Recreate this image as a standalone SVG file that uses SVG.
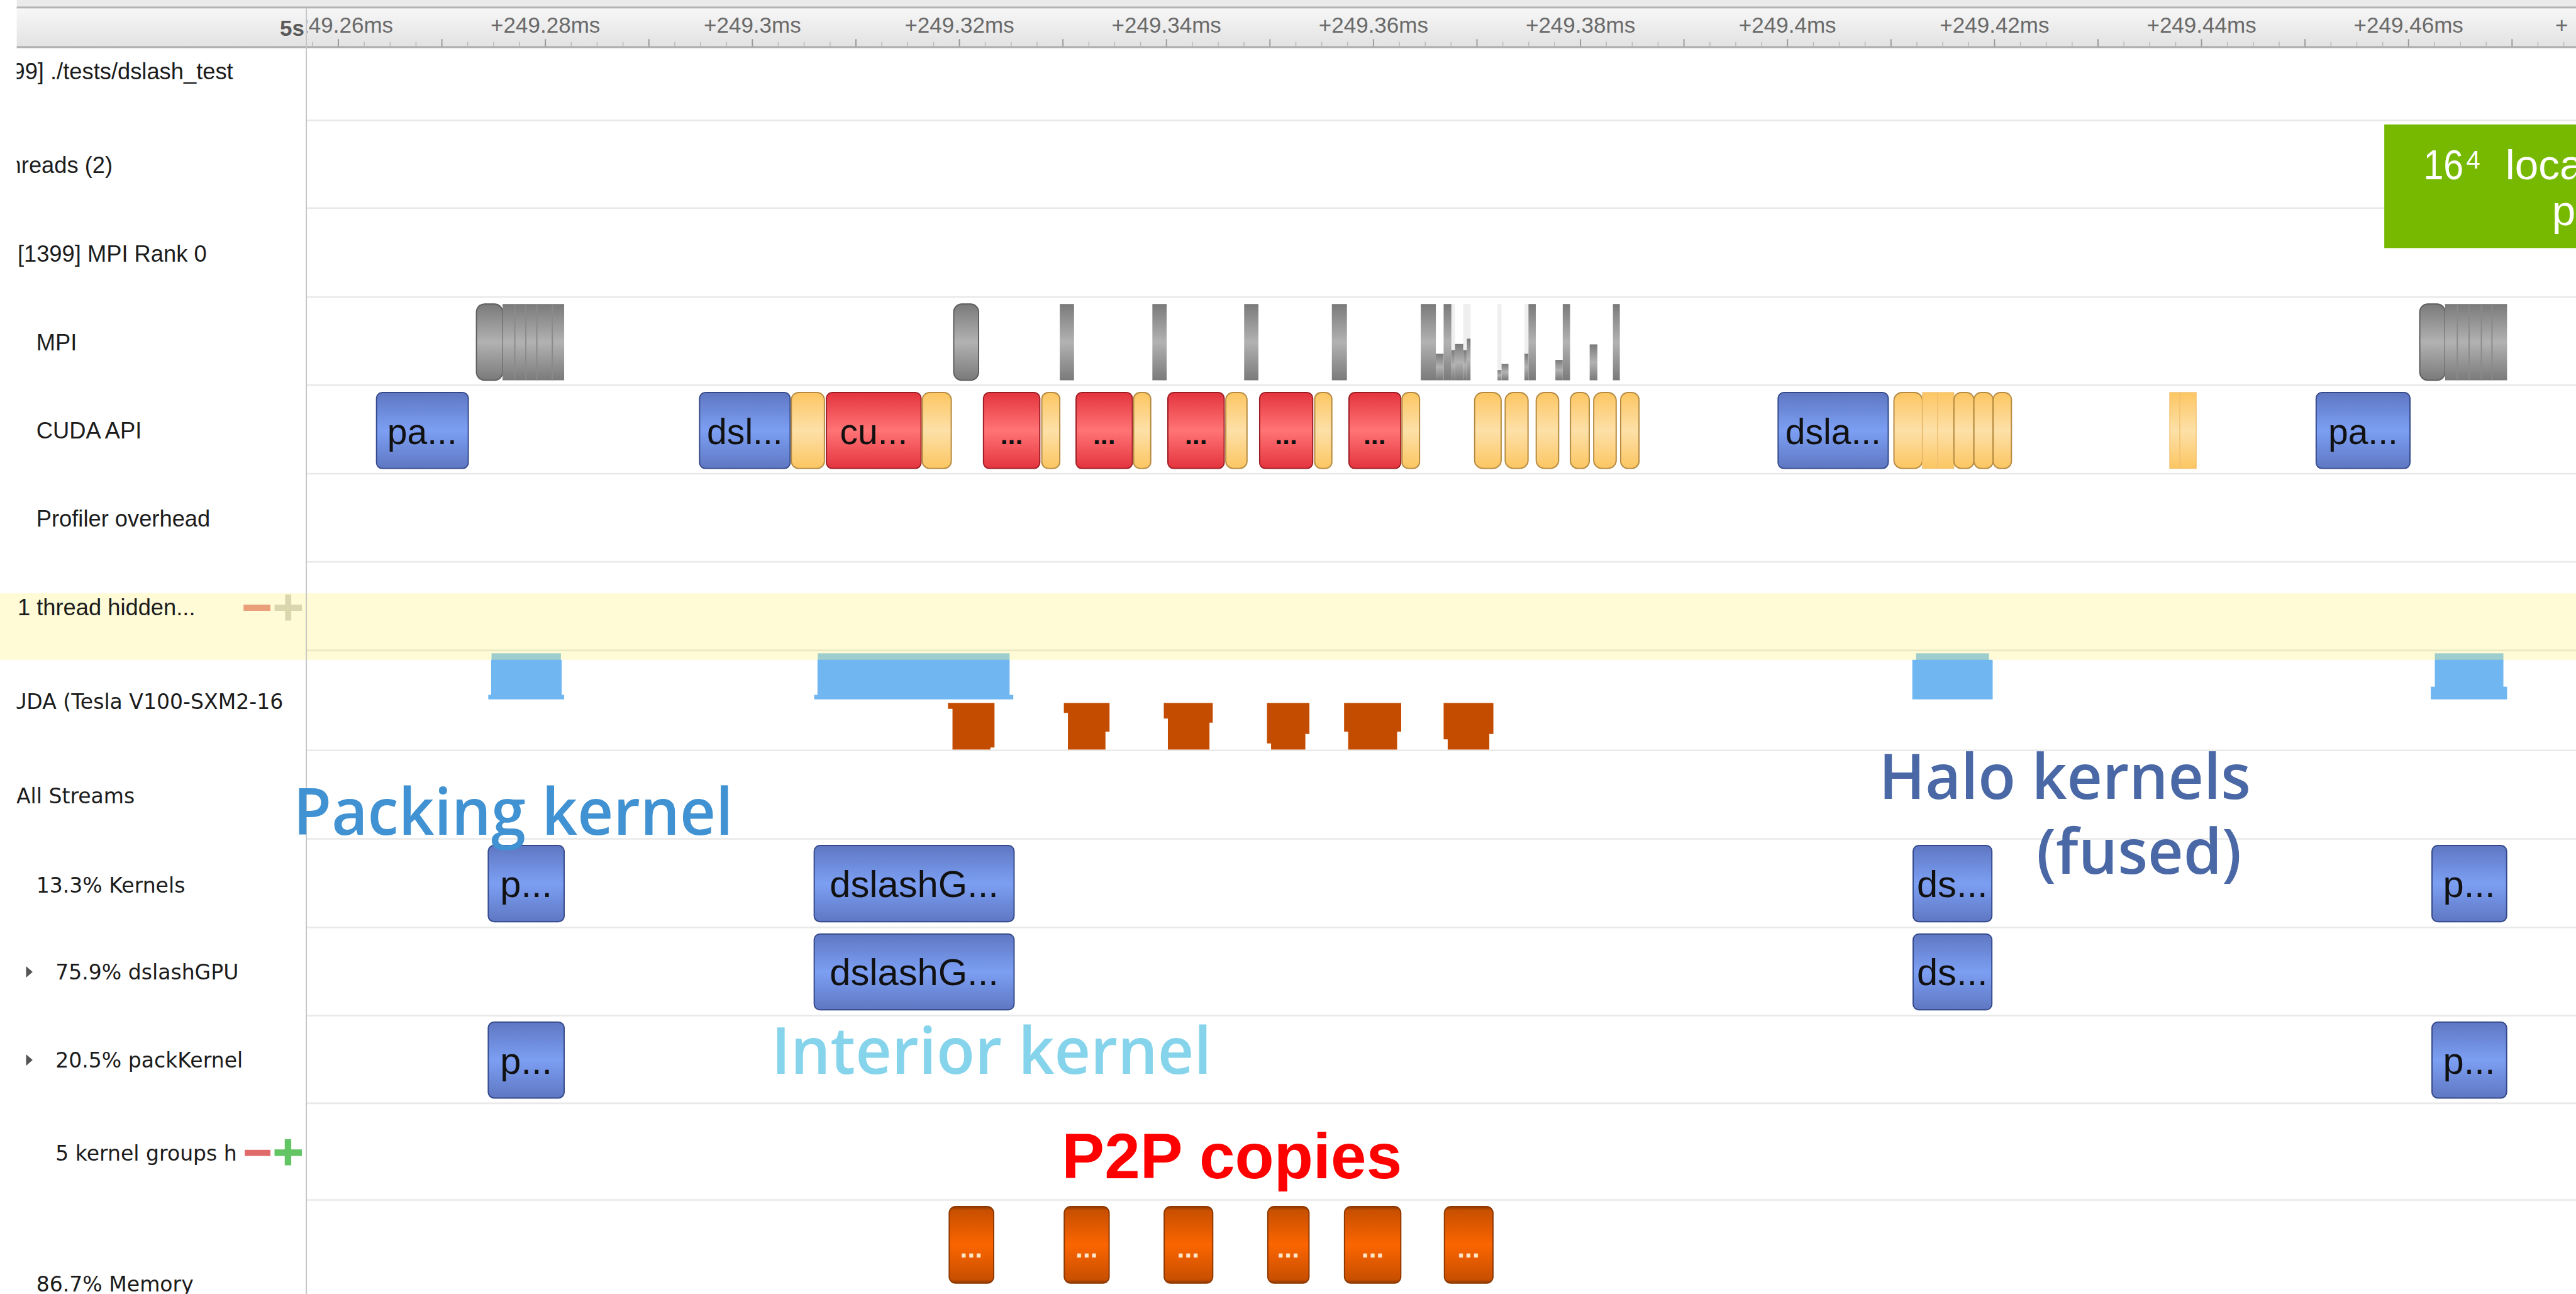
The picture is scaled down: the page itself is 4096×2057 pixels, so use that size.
<svg xmlns="http://www.w3.org/2000/svg" width="4096" height="2057" viewBox="0 0 4096 2057">
<defs>
  <linearGradient id="gBlue" x1="0" y1="0" x2="0" y2="1">
    <stop offset="0" stop-color="#5f77c2"/><stop offset="0.5" stop-color="#7c9ff3"/><stop offset="1" stop-color="#5f77c2"/>
  </linearGradient>
  <linearGradient id="gRed" x1="0" y1="0" x2="0" y2="1">
    <stop offset="0" stop-color="#e4343e"/><stop offset="0.5" stop-color="#ff7476"/><stop offset="1" stop-color="#e4343e"/>
  </linearGradient>
  <linearGradient id="gTan" x1="0" y1="0" x2="0" y2="1">
    <stop offset="0" stop-color="#fcc662"/><stop offset="0.5" stop-color="#fde0a8"/><stop offset="1" stop-color="#fcc662"/>
  </linearGradient>
  <linearGradient id="gGray" x1="0" y1="0" x2="0" y2="1">
    <stop offset="0" stop-color="#7a7a7a"/><stop offset="0.5" stop-color="#b2b2b2"/><stop offset="1" stop-color="#7a7a7a"/>
  </linearGradient>
  <linearGradient id="gMem" x1="0" y1="0" x2="0" y2="1">
    <stop offset="0" stop-color="#8c3800"/><stop offset="0.05" stop-color="#c84f00"/><stop offset="0.5" stop-color="#fb6500"/><stop offset="0.95" stop-color="#c84f00"/><stop offset="1" stop-color="#8c3800"/>
  </linearGradient>
  <linearGradient id="gRuler" x1="0" y1="0" x2="0" y2="1">
    <stop offset="0" stop-color="#f7f7f7"/><stop offset="1" stop-color="#e2e2e2"/>
  </linearGradient>
  <clipPath id="clipLabels"><rect x="41" y="0" width="697" height="3171"/></clipPath>
  <clipPath id="clipRuler"><rect x="752" y="0" width="5563" height="118"/></clipPath>
</defs>
<style>
  .rl { stroke:#e9e9e9; stroke-width:4; }
  .lbl { font-family:"Liberation Sans", Arial, sans-serif; font-size:56px; fill:#1c1c1c; }
  .lbl2 { font-family:"DejaVu Sans", Verdana, sans-serif; font-size:51px; fill:#1c1c1c; }
  .kb { fill:url(#gBlue); stroke:#34498a; stroke-width:3; }
  .kr { fill:url(#gRed); stroke:#9c1c24; stroke-width:3; }
  .kt { fill:url(#gTan); stroke:#b58a40; stroke-width:3; }
  .kf { fill:url(#gTan); stroke:#f0c070; stroke-width:2; }
  .mg { fill:url(#gGray); stroke:#5e5e5e; stroke-width:3; }
  .gb { fill:url(#gGray); }
  .lg { fill:#efefef; }
  .km { fill:url(#gMem); stroke:#8c3800; stroke-width:3; }
  .gpu { fill:#70b6f1; }
  .teal { fill:#9dcdcc; }
  .cp { fill:#c44c00; }
  .bt { font-family:"Liberation Sans", Arial, sans-serif; font-size:88px; fill:#111; text-anchor:middle; }
  .bk { font-family:"Liberation Sans", Arial, sans-serif; font-size:92px; fill:#111; text-anchor:middle; }
  .dots { font-family:"Liberation Sans", Arial, sans-serif; font-size:66px; font-weight:bold; text-anchor:middle; }
  .rt { font-family:"Liberation Sans", Arial, sans-serif; font-size:54px; fill:#6a6a6a; text-anchor:middle; }
  .ann { font-family:"Open Sans", "DejaVu Sans", sans-serif; font-weight:600; }
  .cap { font-family:"Liberation Sans", Arial, sans-serif; fill:#ffffff; }
</style>
<g transform="scale(0.648614)">
  <!-- background -->
  <rect x="0" y="0" width="6315" height="3171" fill="#ffffff"/>

  <!-- header ruler -->
  <g id="ruler">
    <rect x="41" y="0" width="6274" height="17" fill="#ebebeb"/>
    <rect x="41" y="16" width="6274" height="5" fill="#b4b4b4"/>
    <rect x="41" y="21" width="6274" height="93" fill="url(#gRuler)"/>
    <rect x="41" y="113" width="6274" height="5" fill="#b0b0b0"/>
    <path stroke="#9a9a9a" stroke-width="3" d="M829.5 96V114M1083.25 96V114M1337 96V114M1590.75 96V114M1844.5 96V114M2098.25 96V114M2352 96V114M2605.75 96V114M2859.5 96V114M3113.25 96V114M3367 96V114M3620.75 96V114M3874.5 96V114M4128.25 96V114M4382 96V114M4635.75 96V114M4889.5 96V114M5143.25 96V114M5397 96V114M5650.75 96V114M5904.5 96V114M6158.25 96V114"/>
    <path stroke="#bdbdbd" stroke-width="2.5" d="M766.1 102V114M892.9 102V114M956.4 102V114M1019.8 102V114M1146.7 102V114M1210.1 102V114M1273.6 102V114M1400.4 102V114M1463.9 102V114M1527.3 102V114M1654.2 102V114M1717.6 102V114M1781.1 102V114M1907.9 102V114M1971.4 102V114M2034.8 102V114M2161.7 102V114M2225.1 102V114M2288.6 102V114M2415.4 102V114M2478.9 102V114M2542.3 102V114M2669.2 102V114M2732.6 102V114M2796.1 102V114M2922.9 102V114M2986.4 102V114M3049.8 102V114M3176.7 102V114M3240.1 102V114M3303.6 102V114M3430.4 102V114M3493.9 102V114M3557.3 102V114M3684.2 102V114M3747.6 102V114M3811.1 102V114M3937.9 102V114M4001.4 102V114M4064.8 102V114M4191.7 102V114M4255.1 102V114M4318.6 102V114M4445.4 102V114M4508.9 102V114M4572.3 102V114M4699.2 102V114M4762.6 102V114M4826.1 102V114M4952.9 102V114M5016.4 102V114M5079.8 102V114M5206.7 102V114M5270.1 102V114M5333.6 102V114M5460.4 102V114M5523.9 102V114M5587.3 102V114M5714.2 102V114M5777.6 102V114M5841.1 102V114M5967.9 102V114M6031.4 102V114M6094.8 102V114M6221.7 102V114M6285.1 102V114"/>
    <text x="746" y="88" font-family="Liberation Sans, Arial, sans-serif" font-size="54" font-weight="bold" fill="#5a5a5a" text-anchor="end">5s</text>
    <g clip-path="url(#clipRuler)">
      <text class="rt" x="829.5" y="80">+249.26ms</text>
      <text class="rt" x="1337" y="80">+249.28ms</text>
      <text class="rt" x="1844.5" y="80">+249.3ms</text>
      <text class="rt" x="2352" y="80">+249.32ms</text>
      <text class="rt" x="2859.5" y="80">+249.34ms</text>
      <text class="rt" x="3367" y="80">+249.36ms</text>
      <text class="rt" x="3874.5" y="80">+249.38ms</text>
      <text class="rt" x="4382" y="80">+249.4ms</text>
      <text class="rt" x="4889.5" y="80">+249.42ms</text>
      <text class="rt" x="5397" y="80">+249.44ms</text>
      <text class="rt" x="5904.5" y="80">+249.46ms</text>
      <text class="rt" x="6280" y="80" text-anchor="start">+</text>
    </g>
  </g>

  <!-- collapsed-thread band -->
  <rect x="0" y="1454" width="6315" height="163" fill="#fffbd6"/>
  <line x1="752" y1="1594" x2="6315" y2="1594" stroke="#ece8c4" stroke-width="4"/>

  <!-- row separators -->
  <g id="row-lines">
    <line class="rl" x1="752" y1="295" x2="6315" y2="295"/>
    <line class="rl" x1="752" y1="510" x2="6315" y2="510"/>
    <line class="rl" x1="752" y1="728" x2="6315" y2="728"/>
    <line class="rl" x1="752" y1="944" x2="6315" y2="944"/>
    <line class="rl" x1="752" y1="1161" x2="6315" y2="1161"/>
    <line class="rl" x1="752" y1="1377" x2="6315" y2="1377"/>
    <line class="rl" x1="752" y1="1839" x2="6315" y2="1839"/>
    <line class="rl" x1="752" y1="2056" x2="6315" y2="2056"/>
    <line class="rl" x1="752" y1="2273" x2="6315" y2="2273"/>
    <line class="rl" x1="752" y1="2489" x2="6315" y2="2489"/>
    <line class="rl" x1="752" y1="2704" x2="6315" y2="2704"/>
    <line class="rl" x1="752" y1="2941" x2="6315" y2="2941"/>
  </g>

  <!-- panel divider -->
  <line x1="751" y1="20" x2="751" y2="3171" stroke="#c6c6c6" stroke-width="3"/>

  <!-- row labels -->
  <g id="labels" clip-path="url(#clipLabels)">
    <text class="lbl" x="30" y="195">99] ./tests/dslash_test</text>
    <text class="lbl" x="21" y="424">hreads (2)</text>
    <text class="lbl" x="43" y="641">[1399] MPI Rank 0</text>
    <text class="lbl" x="89" y="858">MPI</text>
    <text class="lbl" x="89" y="1074">CUDA API</text>
    <text class="lbl" x="89" y="1290" fill="#7c7c7c">Profiler overhead</text>
    <text class="lbl" x="43" y="1508" fill="#8e8c7c">1 thread hidden...</text>
    <text class="lbl2" x="28" y="1737">UDA (Tesla V100-SXM2-16</text>
    <text class="lbl2" x="40" y="1969">All Streams</text>
    <text class="lbl2" x="89" y="2188">13.3% Kernels</text>
    <text class="lbl2" x="136" y="2401">75.9% dslashGPU</text>
    <text class="lbl2" x="136" y="2617">20.5% packKernel</text>
    <text class="lbl2" x="136" y="2845" fill="#999999">5 kernel groups h</text>
    <text class="lbl2" x="89" y="3165">86.7% Memory</text>
  </g>
  <g id="expanders">
    <polygon points="64,2368 64,2396 80,2382" fill="#555555"/>
    <polygon points="64,2584 64,2612 80,2598" fill="#555555"/>
  </g>
  <g id="thread-toggle">
    <rect x="597" y="1482" width="66" height="15" fill="#e9a07a"/>
    <rect x="673" y="1482" width="67" height="15" fill="#dcd6ae"/>
    <rect x="699" y="1457" width="15" height="64" fill="#dcd6ae"/>
  </g>
  <g id="kernel-toggle">
    <rect x="600" y="2818" width="63" height="15" fill="#e06a6a"/>
    <rect x="673" y="2817" width="67" height="16" fill="#62c462"/>
    <rect x="698" y="2792" width="16" height="64" fill="#62c462"/>
  </g>

  <!-- MPI row -->
  <g id="mpi">
    <rect class="mg" x="1168" y="745" width="64" height="187" rx="20"/>
    <g id="mpi-burst-1">
      <rect class="gb" x="1232" y="745" width="151" height="187"/>
      <path stroke="#8a8a8a" stroke-width="3" d="M1262 745V932M1289 745V932M1316 745V932M1354 745V932"/>
    </g>
    <rect class="mg" x="2338" y="745" width="61" height="187" rx="20"/>
    <rect class="gb" x="2598" y="745" width="35" height="187"/>
    <rect class="gb" x="2825" y="745" width="35" height="187"/>
    <rect class="gb" x="3050" y="745" width="35" height="187"/>
    <rect class="gb" x="3265" y="745" width="37" height="187"/>
    <g id="mpi-cluster">
      <rect class="lg" x="3558" y="745" width="9" height="113"/>
      <rect class="lg" x="3587" y="745" width="18" height="113"/>
      <rect class="lg" x="3671" y="745" width="10" height="162"/>
      <rect class="lg" x="3737" y="745" width="10" height="122"/>
      <rect class="gb" x="3483" y="745" width="37" height="187"/>
      <rect class="gb" x="3520" y="867" width="19" height="65"/>
      <rect class="gb" x="3539" y="745" width="19" height="187"/>
      <rect class="gb" x="3558" y="858" width="9" height="74"/>
      <rect class="gb" x="3567" y="843" width="20" height="89"/>
      <rect class="gb" x="3587" y="858" width="9" height="74"/>
      <rect class="gb" x="3596" y="830" width="9" height="102"/>
      <rect class="gb" x="3671" y="907" width="10" height="25"/>
      <rect class="gb" x="3681" y="892" width="17" height="40"/>
      <rect class="gb" x="3737" y="867" width="10" height="65"/>
      <rect class="gb" x="3747" y="745" width="18" height="187"/>
      <rect class="gb" x="3813" y="882" width="18" height="50"/>
      <rect class="gb" x="3831" y="745" width="18" height="187"/>
      <rect class="gb" x="3897" y="844" width="19" height="88"/>
      <rect class="gb" x="3954" y="745" width="17" height="187"/>
    </g>
    <rect class="mg" x="5932" y="745" width="62" height="187" rx="20"/>
    <g id="mpi-burst-2">
      <rect class="gb" x="5994" y="745" width="152" height="187"/>
      <path stroke="#8a8a8a" stroke-width="3" d="M6024 745V932M6053 745V932M6083 745V932M6109 745V932"/>
    </g>
  </g>

  <!-- CUDA API row -->
  <g id="cuda-api">
    <g id="api-pack-1"><rect class="kb" x="923" y="962" width="225" height="186" rx="14"/><text class="bt" x="1035" y="1088">pa...</text></g>
    <g id="api-dslash-1"><rect class="kb" x="1715" y="962" width="222" height="186" rx="14"/><text class="bt" x="1826" y="1088">dsl...</text></g>
    <rect class="kt" x="1940" y="962" width="81" height="186" rx="18"/>
    <g id="api-cu"><rect class="kr" x="2026" y="962" width="232" height="186" rx="14"/><text class="bt" x="2142" y="1088">cu...</text></g>
    <rect class="kt" x="2261" y="962" width="71" height="186" rx="18"/>
    <g id="api-r1"><rect class="kr" x="2411" y="962" width="138" height="186" rx="14"/><text class="dots" x="2480" y="1088" fill="#111">...</text></g>
    <rect class="kt" x="2554" y="962" width="44" height="186" rx="16"/>
    <g id="api-r2"><rect class="kr" x="2638" y="962" width="138" height="186" rx="14"/><text class="dots" x="2707" y="1088" fill="#111">...</text></g>
    <rect class="kt" x="2779" y="962" width="42" height="186" rx="16"/>
    <g id="api-r3"><rect class="kr" x="2863" y="962" width="138" height="186" rx="14"/><text class="dots" x="2932" y="1088" fill="#111">...</text></g>
    <rect class="kt" x="3005" y="962" width="52" height="186" rx="18"/>
    <g id="api-r4"><rect class="kr" x="3088" y="962" width="130" height="186" rx="14"/><text class="dots" x="3153" y="1088" fill="#111">...</text></g>
    <rect class="kt" x="3223" y="962" width="42" height="186" rx="16"/>
    <g id="api-r5"><rect class="kr" x="3307" y="962" width="127" height="186" rx="14"/><text class="dots" x="3370" y="1088" fill="#111">...</text></g>
    <rect class="kt" x="3437" y="962" width="43" height="186" rx="16"/>
    <rect class="kt" x="3615" y="962" width="65" height="186" rx="20"/>
    <rect class="kt" x="3690" y="962" width="56" height="186" rx="20"/>
    <rect class="kt" x="3766" y="962" width="55" height="186" rx="20"/>
    <rect class="kt" x="3850" y="962" width="46" height="186" rx="18"/>
    <rect class="kt" x="3907" y="962" width="55" height="186" rx="20"/>
    <rect class="kt" x="3973" y="962" width="45" height="186" rx="18"/>
    <g id="api-dslash-2"><rect class="kb" x="4359" y="962" width="270" height="186" rx="14"/><text class="bt" x="4494" y="1088">dsla...</text></g>
    <rect class="kt" x="4643" y="962" width="70" height="186" rx="20"/>
    <rect class="kf" x="4713" y="962" width="37" height="186"/>
    <rect class="kf" x="4750" y="962" width="40" height="186"/>
    <rect class="kt" x="4790" y="962" width="49" height="186" rx="18"/>
    <rect class="kt" x="4839" y="962" width="47" height="186" rx="18"/>
    <rect class="kt" x="4886" y="962" width="45" height="186" rx="18"/>
    <rect class="kf" x="5319" y="962" width="25" height="186"/>
    <rect class="kf" x="5344" y="962" width="40" height="186"/>
    <g id="api-pack-2"><rect class="kb" x="5678" y="962" width="230" height="186" rx="14"/><text class="bt" x="5793" y="1088">pa...</text></g>
  </g>

  <!-- GPU device summary row -->
  <g id="gpu-activity">
    <rect class="teal" x="1205" y="1601" width="170" height="17"/>
    <rect class="gpu" x="1204" y="1617" width="173" height="90"/>
    <rect class="gpu" x="1197" y="1703" width="186" height="11"/>
    <rect class="teal" x="2005" y="1601" width="470" height="17"/>
    <rect class="gpu" x="2004" y="1617" width="471" height="90"/>
    <rect class="gpu" x="1996" y="1703" width="488" height="11"/>
    <rect class="teal" x="4697" y="1601" width="179" height="17"/>
    <rect class="gpu" x="4688" y="1617" width="197" height="97"/>
    <rect class="teal" x="5969" y="1601" width="168" height="17"/>
    <rect class="gpu" x="5969" y="1617" width="168" height="70"/>
    <rect class="gpu" x="5959" y="1683" width="187" height="31"/>
    <polygon class="cp" points="2324,1723 2438,1723 2438,1832 2428,1832 2428,1837 2335,1837 2335,1737 2324,1737"/>
    <polygon class="cp" points="2608,1723 2720,1723 2720,1793 2710,1793 2710,1837 2618,1837 2618,1747 2608,1747"/>
    <polygon class="cp" points="2853,1723 2973,1723 2973,1771 2965,1771 2965,1837 2863,1837 2863,1761 2853,1761"/>
    <polygon class="cp" points="3106,1723 3210,1723 3210,1799 3200,1799 3200,1837 3116,1837 3116,1822 3106,1822"/>
    <polygon class="cp" points="3295,1723 3435,1723 3435,1793 3425,1793 3425,1837 3305,1837 3305,1793 3295,1793"/>
    <polygon class="cp" points="3539,1723 3661,1723 3661,1799 3651,1799 3651,1837 3549,1837 3549,1812 3539,1812"/>
  </g>

  <!-- kernel rows -->
  <g id="kernels-all">
    <g id="k-pack-1"><rect class="kb" x="1197" y="2072" width="186" height="187" rx="14"/><text class="bk" x="1290" y="2199">p...</text></g>
    <g id="k-dslash-1"><rect class="kb" x="1996" y="2072" width="490" height="187" rx="14"/><text class="bk" x="2241" y="2199">dslashG...</text></g>
    <g id="k-dslash-2"><rect class="kb" x="4690" y="2072" width="193" height="187" rx="14"/><text class="bk" x="4786" y="2199">ds...</text></g>
    <g id="k-pack-2"><rect class="kb" x="5962" y="2072" width="183" height="187" rx="14"/><text class="bk" x="6053" y="2199">p...</text></g>
  </g>
  <g id="kernels-dslash">
    <g id="d-dslash-1"><rect class="kb" x="1996" y="2289" width="490" height="186" rx="14"/><text class="bk" x="2241" y="2415">dslashG...</text></g>
    <g id="d-dslash-2"><rect class="kb" x="4690" y="2289" width="193" height="186" rx="14"/><text class="bk" x="4786" y="2415">ds...</text></g>
  </g>
  <g id="kernels-pack">
    <g id="p-pack-1"><rect class="kb" x="1197" y="2505" width="186" height="186" rx="14"/><text class="bk" x="1290" y="2631">p...</text></g>
    <g id="p-pack-2"><rect class="kb" x="5962" y="2505" width="183" height="186" rx="14"/><text class="bk" x="6053" y="2631">p...</text></g>
  </g>

  <!-- memory row -->
  <g id="memory">
    <g id="m1"><rect class="km" x="2327" y="2957" width="109" height="188" rx="16"/><text class="dots" x="2381" y="3082" fill="#ffe6cc">...</text></g>
    <g id="m2"><rect class="km" x="2609" y="2957" width="110" height="188" rx="16"/><text class="dots" x="2664" y="3082" fill="#ffe6cc">...</text></g>
    <g id="m3"><rect class="km" x="2854" y="2957" width="119" height="188" rx="16"/><text class="dots" x="2913" y="3082" fill="#ffe6cc">...</text></g>
    <g id="m4"><rect class="km" x="3108" y="2957" width="101" height="188" rx="16"/><text class="dots" x="3158" y="3082" fill="#ffe6cc">...</text></g>
    <g id="m5"><rect class="km" x="3296" y="2957" width="138" height="188" rx="16"/><text class="dots" x="3365" y="3082" fill="#ffe6cc">...</text></g>
    <g id="m6"><rect class="km" x="3541" y="2957" width="119" height="188" rx="16"/><text class="dots" x="3600" y="3082" fill="#ffe6cc">...</text></g>
  </g>

  <!-- green caption box at the right edge -->
  <g id="caption">
    <rect x="5845" y="305" width="470" height="303" fill="#76b900"/>
    <text class="cap" x="5941" y="439" font-size="104" textLength="98" lengthAdjust="spacingAndGlyphs">16</text>
    <text class="cap" x="6046" y="413" font-size="62">4</text>
    <text class="cap" x="6142" y="439" font-size="104">loca</text>
    <text class="cap" x="6256" y="552" font-size="104">p</text>
  </g>

  <!-- annotations -->
  <g id="annotations">
    <text class="ann" x="719" y="2046" font-size="158" fill="#4092d2" textLength="1078" lengthAdjust="spacingAndGlyphs">Packing kernel</text>
    <text class="ann" x="4606" y="1958" font-size="155" fill="#4a68a5" textLength="912" lengthAdjust="spacingAndGlyphs">Halo kernels</text>
    <text class="ann" x="4992" y="2142" font-size="155" fill="#4a68a5" textLength="503" lengthAdjust="spacingAndGlyphs">(fused)</text>
    <text class="ann" x="1891" y="2631" font-size="160" fill="#85d4ec" textLength="1079" lengthAdjust="spacingAndGlyphs">Interior kernel</text>
    <text x="2603" y="2888" font-family="Liberation Sans, Arial, sans-serif" font-weight="bold" font-size="157" fill="#ff0000" textLength="834" lengthAdjust="spacingAndGlyphs">P2P copies</text>
  </g>
</g>
</svg>
